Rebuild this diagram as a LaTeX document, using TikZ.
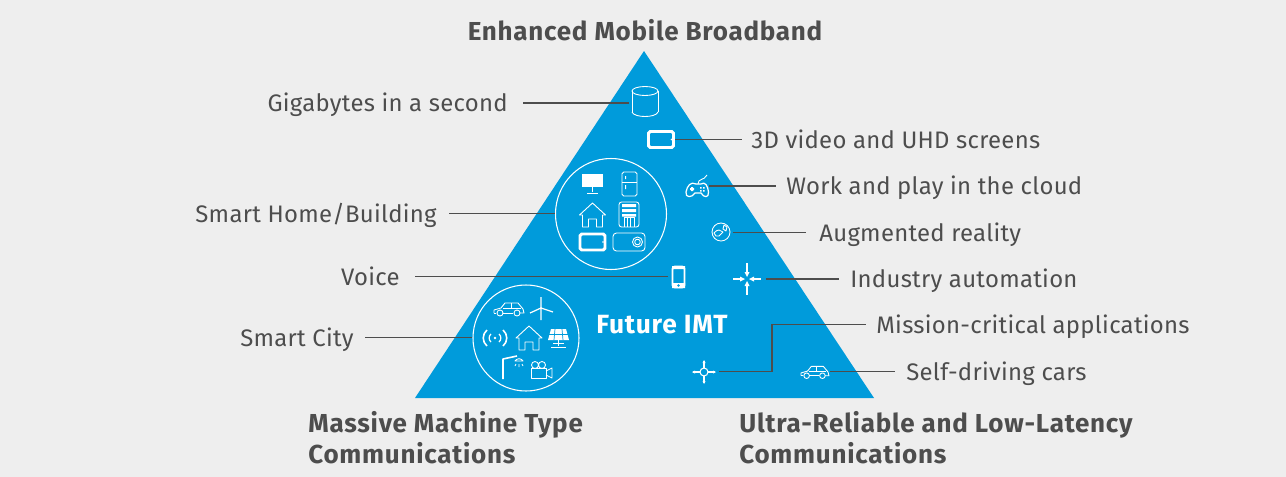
\documentclass[tikz,border=0pt]{standalone}
\usepackage{fontspec}
\setmainfont{Fira Sans}[LetterSpace=1.2]
\newfontfamily\headfont{Fira Sans}[LetterSpace=2.9]
\definecolor{imtblue}{HTML}{009BDB}
\definecolor{imtgrey}{HTML}{EEEEEE}
\definecolor{imttext}{HTML}{4D4D4D}
\tikzset{
    itemtext/.style={text=imttext, font=\fontsize{13.6}{16}\selectfont, inner xsep=0pt, inner ysep=0pt, text height=12pt, text depth=2.2pt},
    headtext/.style={text=imttext, font=\fontsize{14.8}{17.6}\selectfont\headfont\bfseries, inner sep=0pt, align=left},
    leader/.style={draw=imttext, line width=0.85pt},
    icon/.style={draw=white, line width=0.5pt, line join=round},
    car/.pic={
        \draw[icon] (-15,4) -- (-15,1) -- (-8,-1) -- (-4,-6) -- (9,-6) -- (14,0) -- (15,4) -- (11,4);
        \draw[icon] (4,4) -- (-6,4) (-13,4) -- (-15,4);
        \draw[icon] (-6,-1) -- (12,-1) (2,-6) -- (2,-1);
        \draw[icon] (-9,4) circle (3) (8,4) circle (3);
    },
    house/.pic={
        \draw[icon] (-13,0) -- (0,-12) -- (13,0) -- (10,0) -- (10,12) -- (4,12) -- (4,4) -- (-4,4) -- (-4,12) -- (-10,12) -- (-10,0) -- cycle;
    },
    tablet/.pic={
        \draw[white, line width=1.7pt, rounded corners=1] (-12.5,-8) rectangle (12.5,8);
        \fill[white] (10.5,0) circle (0.8);
    },
}
\begin{document}
\begin{tikzpicture}[x=0.02cm,y=-0.02cm]
\useasboundingbox (0,0) rectangle (1286,477);
\fill[imtgrey] (0,0) rectangle (1286,477);
\fill[imtblue] (644,51) -- (874,398) -- (415,398) -- cycle;

% icon circles
\draw[white, line width=0.6pt] (611,214) circle (55.5);
\draw[white, line width=0.6pt] (526,338) circle (53);

% titles
\node[headtext, anchor=center] (embb) at (645,30) {Enhanced Mobile Broadband};
\node[headtext, anchor=west] (mmtc) at (308,438) {Massive Machine Type\\Communications};
\node[headtext, anchor=west] (urllc) at (739,438) {Ultra-Reliable and Low-Latency\\Communications};
\node[text=white, font=\fontsize{15}{17}\selectfont\headfont\bfseries, inner sep=0pt] (imt) at (662,325) {Future IMT};

% labels
\node[itemtext, anchor=east] (gigabytes) at (508,103) {Gigabytes in a second};
\node[itemtext, anchor=west] (video) at (751,139.5) {3D video and UHD screens};
\node[itemtext, anchor=west] (cloud) at (786,186) {Work and play in the cloud};
\node[itemtext, anchor=west] (reality) at (819,232.5) {Augmented reality};
\node[itemtext, anchor=west] (industry) at (850,279) {Industry automation};
\node[itemtext, anchor=west] (critical) at (876,324.5) {Mission-critical applications};
\node[itemtext, anchor=west] (driving) at (906,371.5) {Self-driving cars};
\node[itemtext, anchor=east] (home) at (437,213.5) {Smart Home/Building};
\node[itemtext, anchor=east] (voice) at (400,276.5) {Voice};
\node[itemtext, anchor=east] (city) at (354,337.5) {Smart City};

% connector ends
\coordinate (disk) at (629,103);
\coordinate (screen) at (675,139.5);
\coordinate (gamepad) at (709,186);
\coordinate (globe) at (733,232.5);
\coordinate (cross) at (766,279);
\coordinate (target) at (719,371.5);
\coordinate (bend) at (772,324.5);
\coordinate (smallcar) at (830,371.5);
\coordinate (homecircle) at (555,213.5);
\coordinate (phone) at (668,276.5);
\coordinate (citycircle) at (472,337.5);

\draw[leader] ([xshift=15*0.02cm]gigabytes.east) -- (disk);
\draw[leader] (screen) -- ([xshift=-9*0.02cm]video.west);
\draw[leader] (gamepad) -- ([xshift=-10*0.02cm]cloud.west);
\draw[leader] (globe) -- ([xshift=-13*0.02cm]reality.west);
\draw[leader] (cross) -- ([xshift=-11*0.02cm]industry.west);
\draw[leader] (target) -| (bend) -- ([xshift=-10*0.02cm]critical.west);
\draw[leader] (smallcar) -- ([xshift=-11*0.02cm]driving.west);
\draw[leader] ([xshift=12*0.02cm]home.east) -- (homecircle);
\draw[leader] ([xshift=15*0.02cm]voice.east) -- (phone);
\draw[leader] ([xshift=11*0.02cm]city.east) -- (citycircle);

% disk
\draw[icon] (632,91) -- (632,112) (658,91) -- (658,112);
\draw[icon] (645,91) ellipse (13 and 4.5);
\draw[icon] (632,112) .. controls (634,118) and (656,118) .. (658,112);
% top icons
\pic at (661,139.5) {tablet};
\draw[icon, line width=0.7pt] (686,192) .. controls (687,186) and (691,181) .. (696,184) -- (701,184) .. controls (705,181) and (708,186) .. (708.5,192) .. controls (709,198) and (704,198) .. (701,193) -- (695,193) .. controls (692,198) and (685,198) .. (686,192) -- cycle;
\draw[icon] (698,184) .. controls (698,178) and (704,181) .. (707,175);
\fill[white] (690,188) rectangle (694,190) (691,187) rectangle (693,191);
\fill[white] (700,187) rectangle (701.5,188.5) (703,187) rectangle (704.5,188.5) (700,190) rectangle (701.5,191.5) (703,190) rectangle (704.5,191.5);
\draw[icon] (721,232) circle (9);
\draw[icon] (714,233) .. controls (717,232) and (716,229) .. (719,230) -- (723,232) -- (719,236) -- (716,236) -- cycle;
\draw[icon] (724,225) -- (727,227) -- (726,231) -- (723,229) -- cycle;

% home circle
\fill[white] (582,174) rectangle (603,187);
\draw[icon] (592.5,187) -- (592.5,192) (587,193) -- (598,193);
\draw[icon, rounded corners=1] (622,172) rectangle (637,196);
\draw[icon] (622,182) -- (637,182);
\fill[white] (625,176) rectangle (626,179) (625,185) rectangle (626,189);
\pic at (592.5,215) {house};
\draw[icon, rounded corners=1.5] (619,202) rectangle (639,227);
\fill[white] (622,204) rectangle (636,207) (622,209) rectangle (636,212) (622,214) rectangle (636,216.5);
\draw[icon] (624,227) -- (624,217) -- (634,217) -- (634,227) (627.5,217) -- (627.5,227) (630.5,217) -- (630.5,227);
\pic at (592.5,242) {tablet};
\draw[icon, rounded corners=2] (613,233) rectangle (645,251);
\draw[icon] (637.5,242) circle (5) circle (2.8);

% middle icons
\draw[white, line width=1.1pt, rounded corners=1.5] (672.5,266.5) rectangle (684.5,287.5);
\fill[white] (672,266) rectangle (685,269) (672,283) rectangle (685,288);
\fill[imtblue] (678.5,285.5) circle (1.3);
\draw[white, line width=1pt] (747,263) -- (747,272) (747,286) -- (747,295) (733,279) -- (740,279) (754,279) -- (761,279);
\fill[white] (747,277) -- (744.5,272) -- (749.5,272) -- cycle (747,281) -- (744.5,286) -- (749.5,286) -- cycle (745,279) -- (740,276.5) -- (740,281.5) -- cycle (749,279) -- (754,276.5) -- (754,281.5) -- cycle;

% city circle
\pic at (509,309) {car};
\draw[icon, line width=0.7pt] (541,297) -- (541,320) (541,308) -- (530,313) (541,308) -- (553,312);
\fill[white] (541,308) circle (1);
\fill[white] (495,338) circle (1.3);
\draw[icon, line width=0.7pt] (491,334) .. controls (488.5,336) and (488.5,340) .. (491,342);
\draw[icon, line width=0.7pt] (499,334) .. controls (501.5,336) and (501.5,340) .. (499,342);
\draw[icon, line width=0.9pt] (487,330) .. controls (482,334) and (482,342) .. (487,346);
\draw[icon, line width=0.9pt] (503,330) .. controls (508,334) and (508,342) .. (503,346);
\pic at (529,338) {house};
\fill[white] (551,329) -- (566,329) -- (569,340) -- (548,340) -- cycle;
\draw[imtblue, line width=0.4pt] (548,334.5) -- (569,334.5) (555,329) -- (554,340) (562,329) -- (563,340);
\draw[icon] (558.5,340) -- (558.5,346) (551,347) -- (566,347) (553,343) -- (564,343);
\draw[icon, line width=0.9pt] (503,379) -- (503,359) -- (517,356);
\draw[icon] (515,361) .. controls (517,358) and (521,358) .. (523,361) -- cycle;
\draw[icon] (516,364) -- (515,366) (519,364) -- (519,367) (522,364) -- (523,366);
\draw[icon] (531,368) rectangle (546,378);
\draw[icon] (546,371) -- (552,368) -- (552,378) -- (546,375);
\draw[icon] (535,365) circle (3.5) (542,365) circle (3.5);

% bottom right icons
\draw[white, line width=0.6pt] (704,372) circle (4);
\draw[white, line width=0.6pt] (704,361) -- (704,368) (704,376) -- (704,383) (693,372) -- (700,372) (708,372) -- (715,372);
\fill[white] (704,360) -- (702.5,363) -- (705.5,363) -- cycle (704,384) -- (702.5,381) -- (705.5,381) -- cycle (692,372) -- (695,370.5) -- (695,373.5) -- cycle (716,372) -- (713,370.5) -- (713,373.5) -- cycle;
\pic[scale=0.93] at (815,372) {car};
\end{tikzpicture}
\end{document}
